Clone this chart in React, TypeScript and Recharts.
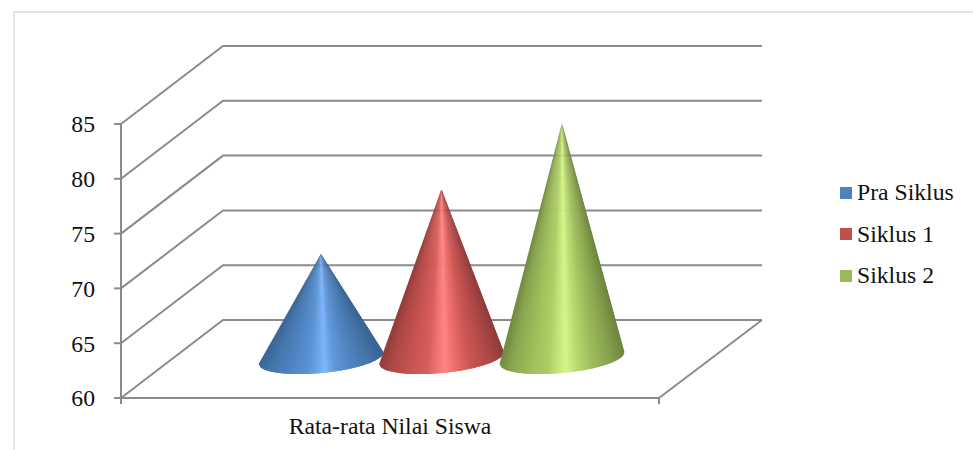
import React from 'react';
import { BarChart, Bar, XAxis, YAxis, CartesianGrid, Legend } from 'recharts';

const categories = ['Rata-rata Nilai Siswa'];
const praSiklus = [69.5];
const siklus1 = [75.4];
const siklus2 = [81.4];
const yTicks = [60, 65, 70, 75, 80, 85];

const rows = categories.map((name, i) => ({
  name,
  pra: praSiklus[i],
  s1: siklus1[i],
  s2: siklus2[i],
}));

const FONT = '"Liberation Serif", "Times New Roman", serif';
const TEXT_SIZE = 23.7;
const AXIS = '#8b8b8b';
// Oblique projection of the plot box: how far the back wall sits from the front plane.
const DEPTH_X = 102;
const DEPTH_Y = 78;

type Stop = [number, string];
const BLUE: Stop[] = [[0, '#3b6697'], [0.08, '#4474a9'], [0.25, '#4f86c4'], [0.38, '#5a92d2'], [0.44, '#68a0e2'], [0.52, '#7db6fb'], [0.6, '#6299da'], [0.72, '#5187c4'], [0.88, '#4575a9'], [1, '#3a6391']];
const RED: Stop[] = [[0, '#933d3b'], [0.08, '#ae4846'], [0.25, '#c95552'], [0.38, '#d85f5c'], [0.44, '#ea7370'], [0.52, '#ff8582'], [0.6, '#ec6e6b'], [0.72, '#cd5754'], [0.88, '#ae4846'], [1, '#8f3c3a']];
const GREEN: Stop[] = [[0, '#718a42'], [0.08, '#88a64f'], [0.25, '#a0c05d'], [0.38, '#aecd66'], [0.44, '#c0e077'], [0.52, '#d3f68a'], [0.6, '#bcdc73'], [0.72, '#a0c05d'], [0.88, '#86a24e'], [1, '#6d853f']];

const hexToRgb = (h: string) => [1, 3, 5].map((i) => parseInt(h.slice(i, i + 2), 16));

function shade(stops: Stop[], u: number) {
  for (let i = 1; i < stops.length; i++) {
    if (u <= stops[i][0]) {
      const [u0, c0] = stops[i - 1];
      const [u1, c1] = stops[i];
      const f = (u - u0) / (u1 - u0);
      const a = hexToRgb(c0);
      const b = hexToRgb(c1);
      return `rgb(${a.map((v, k) => Math.round(v + (b[k] - v) * f)).join(',')})`;
    }
  }
  return stops[stops.length - 1][1];
}

// A cone standing halfway into the box, painted as thin wedges fanning from the tip to the base rim.
// Every wedge overlaps its neighbour so no background shows through the seams.
function Cone(props: any, stops: Stop[]) {
  const { x, y, width, height } = props;
  const cx = x + width / 2 + DEPTH_X / 2 + 0.7;
  const tipY = y - DEPTH_Y / 2 - 1;
  const baseY = y + height - DEPTH_Y / 2 - 1;
  const rx = width * 0.52;
  const ry = 15;
  const rot = (-5.5 * Math.PI) / 180;
  const rim = (u: number) => {
    const th = Math.acos(1 - 2 * Math.min(u, 1));
    const px = -rx * Math.cos(th);
    const py = ry * Math.sin(th);
    return [cx + px * Math.cos(rot) - py * Math.sin(rot), baseY + px * Math.sin(rot) + py * Math.cos(rot)];
  };
  const N = 100;
  const wedges = [];
  for (let i = 0; i < N; i++) {
    const pts = [rim(i / N), rim((i + 1) / N), rim((i + 2) / N)];
    wedges.push(
      <polygon
        key={i}
        points={`${cx},${tipY} ${pts.map((p) => p.join(',')).join(' ')}`}
        fill={shade(stops, (i + 0.5) / N)}
      />,
    );
  }
  return <g>{wedges}</g>;
}

// Each grid value becomes a line running along the side wall and then the back wall.
function WallLine(props: any) {
  const { x1, x2, y1, index } = props;
  const backY = y1 - DEPTH_Y;
  const isFloor = y1 > 380;
  return (
    <g key={`wall-${index}`}>
      <polyline
        points={`${x1},${y1} ${x1 + DEPTH_X},${backY} ${x2 + DEPTH_X + 1},${backY}`}
        fill="none"
        stroke={AXIS}
        strokeWidth={2}
      />
      {isFloor && (
        <>
          <line x1={x2} y1={y1} x2={x2 + DEPTH_X + 1} y2={backY} stroke={AXIS} strokeWidth={2} />
          <line x1={x1} y1={y1} x2={x1} y2={y1 + 6} stroke={AXIS} strokeWidth={2} />
          <line x1={x2} y1={y1} x2={x2} y2={y1 + 6} stroke={AXIS} strokeWidth={2} />
        </>
      )}
    </g>
  );
}

function LegendList({ payload }: any) {
  return (
    <div>
      {(payload || []).map((p: any) => (
        <div
          key={p.value}
          style={{ display: 'flex', alignItems: 'center', height: 41.5, fontFamily: FONT, fontSize: TEXT_SIZE, color: '#111' }}
        >
          <span style={{ display: 'inline-block', width: 12, height: 12, marginRight: 5, background: p.color }} />
          {p.value}
        </div>
      ))}
    </div>
  );
}

export default function App() {
  return (
    <div style={{ position: 'absolute', left: 0, top: 0, width: 973, height: 450, background: '#fff', overflow: 'hidden' }}>
      <div
        style={{
          position: 'absolute',
          left: 13,
          top: 11,
          width: 970,
          height: 450,
          borderLeft: '2px solid #e6e6e6',
          borderTop: '2px solid #e6e6e6',
        }}
      />
      <div style={{ position: 'absolute', left: 0, top: 0 }}>
        <BarChart
          width={973}
          height={450}
          data={rows}
          margin={{ top: 124, right: 181, bottom: 0, left: 0 }}
          barSize={120.5}
          barGap={0}
        >
          <CartesianGrid horizontal={WallLine as any} vertical={false} />
          <XAxis
            dataKey="name"
            height={52}
            tickLine={false}
            axisLine={{ stroke: AXIS, strokeWidth: 2 }}
            tickMargin={13}
            tick={{ fontFamily: FONT, fontSize: TEXT_SIZE, fill: '#111' }}
          />
          <YAxis
            width={121}
            domain={[60, 85]}
            ticks={yTicks}
            allowDataOverflow
            axisLine={{ stroke: AXIS, strokeWidth: 2 }}
            tickLine={{ stroke: AXIS, strokeWidth: 2 }}
            tickSize={7}
            tickMargin={19}
            tick={{ fontFamily: FONT, fontSize: TEXT_SIZE, fill: '#111' }}
          />
          <Legend
            layout="vertical"
            align="right"
            verticalAlign="top"
            wrapperStyle={{ left: 840, top: 172, width: 133 }}
            content={LegendList as any}
          />
          <Bar dataKey="pra" name="Pra Siklus" fill="#4f81bd" isAnimationActive={false} shape={(p: any) => Cone(p, BLUE)} />
          <Bar dataKey="s1" name="Siklus 1" fill="#c0504d" isAnimationActive={false} shape={(p: any) => Cone(p, RED)} />
          <Bar dataKey="s2" name="Siklus 2" fill="#9bbb59" isAnimationActive={false} shape={(p: any) => Cone(p, GREEN)} />
        </BarChart>
      </div>
    </div>
  );
}
